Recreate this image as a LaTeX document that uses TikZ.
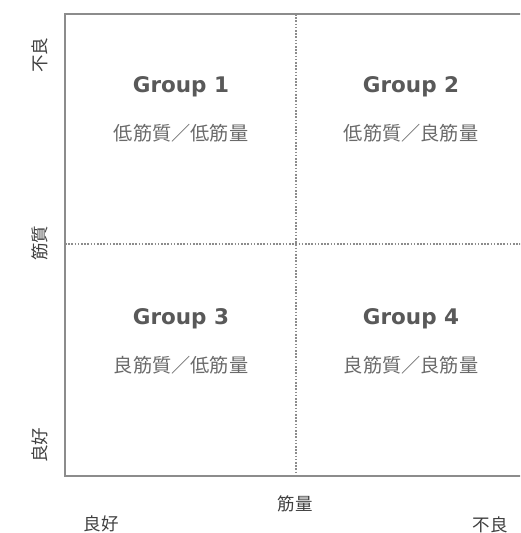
\documentclass[tikz,border=0pt]{standalone}
\usepackage{fontspec}
\newfontfamily\cjk{Noto Sans CJK JP}
\newfontfamily\grp{DejaVu Sans}
\definecolor{boxgray}{HTML}{8C8C8C}
\definecolor{titlegray}{HTML}{595959}
\definecolor{subgray}{HTML}{6A6A6A}
\definecolor{axgray}{HTML}{404040}
\tikzset{
  frame/.style={draw=boxgray, line width=2.4pt},
  divider/.style={draw=boxgray, line width=2pt, dash pattern=on 1.6pt off 1.6pt},
  grouptitle/.style={text=titlegray, font=\grp\bfseries\fontsize{21.5}{25}\selectfont, inner sep=0pt},
  groupsub/.style={text=subgray, font=\cjk\fontsize{19.2}{23}\selectfont, inner sep=0pt},
  axlabel/.style={text=axgray, font=\cjk\fontsize{17.5}{20}\selectfont, inner sep=0pt},
}
\begin{document}
\begin{tikzpicture}[x=1pt,y=-1pt]
\path[use as bounding box, fill=white] (0,0) rectangle (520,533);
\begin{scope}
\clip (0,0) rectangle (520,533);
\coordinate (tl) at (65,14);
\coordinate (bl) at (65,476);
\coordinate (tr) at (530,14);
\coordinate (br) at (530,476);
\coordinate (vt) at (296,14);
\coordinate (vb) at (296,476);
\coordinate (hl) at (65,244);
\coordinate (hr) at (530,244);
\draw[divider] (vt) -- (vb);
\draw[divider] (hl) -- (hr);
\draw[frame] (tr) -- (tl) -- (bl) -- (br);
\end{scope}
\node[grouptitle] (g1) at (181,87) {Group 1};
\node[groupsub] (s1) at (181,133) {低筋質／低筋量};
\node[grouptitle] (g2) at (411,87) {Group 2};
\node[groupsub] (s2) at (411,133) {低筋質／良筋量};
\node[grouptitle] (g3) at (181,319) {Group 3};
\node[groupsub] (s3) at (181,365) {良筋質／低筋量};
\node[grouptitle] (g4) at (411,319) {Group 4};
\node[groupsub] (s4) at (411,365) {良筋質／良筋量};
\node[axlabel, rotate=90] (ybad) at (40,55) {不良};
\node[axlabel, rotate=90] (yq) at (40,243) {筋質};
\node[axlabel, rotate=90] (ygood) at (40,445) {良好};
\node[axlabel] (xm) at (295,504) {筋量};
\node[axlabel] (xgood) at (101,524) {良好};
\node[axlabel] (xbad) at (490,525) {不良};
\end{tikzpicture}
\end{document}
